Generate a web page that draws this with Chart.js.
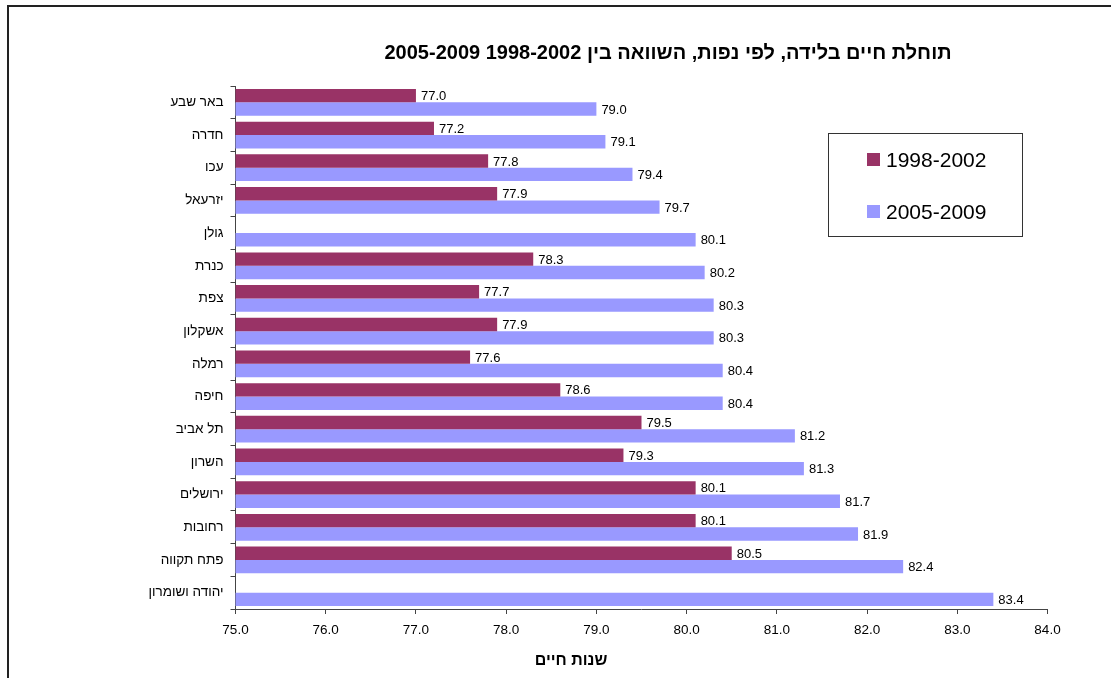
<!DOCTYPE html>
<html lang="he">
<head>
  <meta charset="UTF-8">
  <title>תוחלת חיים בלידה</title>
  <script src="https://cdn.jsdelivr.net/npm/chart.js"></script>
  <style>
    body { margin: 0; background: #fff; }
    #wrap { width: 1111px; height: 678px; }
  </style>
</head>
<body>
  <div id="wrap"><canvas id="lifeChart" width="1111" height="678"></canvas></div>

  <script>
    // נפות, מלמעלה למטה
    const regions = ['באר שבע', 'חדרה', 'עכו', 'יזרעאל', 'גולן', 'כנרת', 'צפת', 'אשקלון',
      'רמלה', 'חיפה', 'תל אביב', 'השרון', 'ירושלים', 'רחובות', 'פתח תקווה', 'יהודה ושומרון'];
    const years9802 = [77.0, 77.2, 77.8, 77.9, null, 78.3, 77.7, 77.9,
      77.6, 78.6, 79.5, 79.3, 80.1, 80.1, 80.5, null];
    const years0509 = [79.0, 79.1, 79.4, 79.7, 80.1, 80.2, 80.3, 80.3,
      80.4, 80.4, 81.2, 81.3, 81.7, 81.9, 82.4, 83.4];
    const seriesNames = ['1998-2002', '2005-2009'];
    const chartTitle = 'תוחלת חיים בלידה, לפי נפות, השוואה בין 1998-2002 2005-2009';
    const axisTitle = 'שנות חיים';
    const xMin = 75, xMax = 84;

    const FONT = 'Arial, "Liberation Sans", sans-serif';
    const colors = ['#993366', '#9999FF'];

    // מסגרת, כותרות ומקרא
    const decorations = {
      id: 'decorations',
      beforeDraw(chart) {
        const ctx = chart.ctx;
        ctx.save();
        ctx.strokeStyle = '#222';
        ctx.lineWidth = 2;
        ctx.beginPath();
        ctx.moveTo(8, chart.height);
        ctx.lineTo(8, 6);
        ctx.lineTo(chart.width, 6);
        ctx.stroke();
        ctx.restore();
      },
      afterDraw(chart) {
        const ctx = chart.ctx;
        ctx.save();
        ctx.direction = 'rtl';
        ctx.fillStyle = '#000';
        ctx.textAlign = 'center';
        ctx.textBaseline = 'middle';
        ctx.font = 'bold 20px ' + FONT;
        ctx.fillText(chartTitle, 668, 53);
        ctx.font = 'bold 16px ' + FONT;
        ctx.fillText(axisTitle, 571, 661);

        // מקרא
        ctx.direction = 'ltr';
        ctx.strokeStyle = '#333';
        ctx.lineWidth = 1;
        ctx.strokeRect(828.5, 133.5, 194, 103);
        ctx.textAlign = 'left';
        ctx.font = '21px ' + FONT;
        const rows = [160, 212];
        chart.data.datasets.forEach((ds, i) => {
          ctx.fillStyle = ds.backgroundColor;
          ctx.fillRect(867, rows[i] - 7, 13, 13);
          ctx.fillStyle = '#000';
          ctx.fillText(ds.label, 886, rows[i] + 1);
        });
        ctx.restore();
      }
    };

    // ערכים בקצה כל עמודה
    const valueLabels = {
      id: 'valueLabels',
      afterDatasetsDraw(chart) {
        const ctx = chart.ctx;
        ctx.save();
        ctx.font = '13px ' + FONT;
        ctx.fillStyle = '#000';
        ctx.textAlign = 'left';
        ctx.textBaseline = 'middle';
        chart.data.datasets.forEach((ds, i) => {
          chart.getDatasetMeta(i).data.forEach((bar, j) => {
            const v = ds.data[j];
            if (v === null) return;
            ctx.fillText(v.toFixed(1), bar.x + 5, bar.y + 1);
          });
        });
        ctx.restore();
      }
    };

    new Chart(document.getElementById('lifeChart'), {
      type: 'bar',
      data: {
        labels: regions,
        datasets: [
          { label: seriesNames[0], data: years9802, backgroundColor: colors[0] },
          { label: seriesNames[1], data: years0509, backgroundColor: colors[1] }
        ]
      },
      options: {
        indexAxis: 'y',
        responsive: false,
        animation: false,
        categoryPercentage: 0.82,
        barPercentage: 1,
        layout: { padding: { left: 0, right: 63.5, top: 86, bottom: 0 } },
        plugins: {
          legend: { display: false },
          title: { display: false },
          tooltip: { enabled: false }
        },
        scales: {
          x: {
            min: xMin,
            max: xMax,
            afterFit(scale) { scale.height = 69; },
            border: { display: true, color: '#444', width: 1 },
            grid: { drawOnChartArea: false, drawTicks: true, tickLength: 5, color: '#444' },
            ticks: {
              stepSize: 1,
              padding: 8,
              color: '#000',
              font: { family: FONT, size: 13.5 },
              callback: v => v.toFixed(1)
            }
          },
          y: {
            afterFit(scale) { scale.width = 235.5; },
            border: { display: true, color: '#444', width: 1 },
            grid: { offset: true, drawOnChartArea: false, drawTicks: true, tickLength: 5, color: '#444' },
            ticks: {
              padding: 7,
              color: '#000',
              font: { family: FONT, size: 13.5 }
            }
          }
        }
      },
      plugins: [decorations, valueLabels]
    });
  </script>
</body>
</html>
